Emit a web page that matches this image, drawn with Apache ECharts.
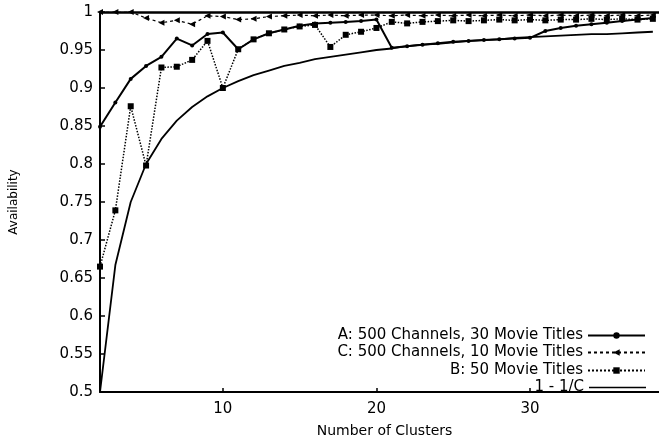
<!DOCTYPE html>
<html>
<head>
<meta charset="utf-8">
<script src="https://cdn.jsdelivr.net/npm/echarts@6/dist/echarts.min.js"></script>
<style>
html,body{margin:0;padding:0;background:#fff;}
#chart{width:659px;height:443px;}
</style>
</head>
<body>
<div id="chart"></div>
<script>
const clusters = [2,3,4,5,6,7,8,9,10,11,12,13,14,15,16,17,18,19,20,21,22,23,24,25,26,27,28,29,30,31,32,33,34,35,36,37,38];
const seriesA = [0.849,0.881,0.912,0.929,0.941,0.965,0.956,0.971,0.973,0.951,0.964,0.972,0.977,0.982,0.985,0.986,0.987,0.988,0.990,0.953,0.955,0.957,0.959,0.961,0.962,0.963,0.964,0.965,0.966,0.975,0.979,0.982,0.984,0.986,0.988,0.990,0.992];
const seriesC = [1.000,1.000,1.000,0.992,0.986,0.989,0.984,0.995,0.994,0.990,0.991,0.994,0.995,0.996,0.995,0.996,0.995,0.996,0.996,0.995,0.996,0.995,0.996,0.995,0.996,0.995,0.996,0.995,0.996,0.995,0.996,0.995,0.996,0.995,0.996,0.995,0.996];
const seriesB = [0.665,0.739,0.876,0.798,0.927,0.928,0.937,0.962,0.900,0.951,0.964,0.972,0.977,0.981,0.983,0.954,0.970,0.974,0.979,0.987,0.985,0.987,0.988,0.989,0.988,0.989,0.990,0.989,0.990,0.989,0.990,0.990,0.991,0.990,0.991,0.990,0.991];
const seriesInv = [0.500,0.667,0.750,0.800,0.833,0.857,0.875,0.889,0.900,0.909,0.917,0.923,0.929,0.933,0.938,0.941,0.944,0.947,0.950,0.952,0.955,0.957,0.958,0.960,0.962,0.963,0.964,0.966,0.967,0.968,0.969,0.970,0.971,0.971,0.972,0.973,0.974];
const xTickValues = [10,20,30];
const names = ['A: 500 Channels, 30 Movie Titles','C: 500 Channels, 10 Movie Titles','B: 50 Movie Titles','1 - 1/C'];

const pair = (ys) => clusters.map((x,i)=>[x, ys[i]]);
const FONT = 'DejaVu Sans';
const chart = echarts.init(document.getElementById('chart'), null, {renderer:'canvas'});
const legendTops = [323, 340, 358, 375];
const legendIcons = [null, null, null, 'rect'];
const legendIconH = [8, 8, 8, 1.5];
chart.setOption({
  backgroundColor:'#fff',
  animation:false,
  textStyle:{fontFamily:FONT,color:'#000'},
  grid:{left:97,right:0,top:12,bottom:46,containLabel:false},
  legend: names.map((n,i)=>({
    data:[legendIcons[i] ? {name:n, icon:legendIcons[i]} : {name:n}],
    orient:'vertical', right:8, top:legendTops[i], align:'right',
    itemWidth:57, itemHeight:legendIconH[i], itemGap:0, selectedMode:false,
    textStyle:{fontFamily:FONT,fontSize:15,color:'#000'}
  })),
  xAxis:[{
    type:'value', min:2, max:38.4,
    name:'Number of Clusters', nameLocation:'middle', nameGap:32,
    nameTextStyle:{fontFamily:FONT,fontSize:14,color:'#000',padding:[0,0,0,10]},
    axisLine:{show:true,onZero:false,lineStyle:{color:'#000',width:2}},
    axisTick:{show:true,inside:true,length:4,customValues:xTickValues,lineStyle:{color:'#000',width:1.5}},
    axisLabel:{show:true,customValues:xTickValues,fontFamily:FONT,fontSize:15,color:'#000',margin:10},
    splitLine:{show:false}
  },{
    type:'value', min:2, max:38.4, position:'top',
    axisLine:{show:true,onZero:false,lineStyle:{color:'#000',width:2.5}},
    axisTick:{show:false}, axisLabel:{show:false}, splitLine:{show:false}
  }],
  yAxis:{
    type:'value', min:0.5, max:1, interval:0.05,
    name:'Availability', nameLocation:'middle', nameGap:80,
    nameTextStyle:{fontFamily:FONT,fontSize:12,color:'#000'},
    axisLine:{show:true,onZero:false,lineStyle:{color:'#000',width:2}},
    axisTick:{show:true,inside:true,length:5,lineStyle:{color:'#000',width:1.5}},
    axisLabel:{fontFamily:FONT,fontSize:15,color:'#000',margin:7},
    splitLine:{show:false}
  },
  series:[
    {name:names[0], type:'line', data:pair(seriesA), symbol:'circle', symbolSize:4,
      lineStyle:{color:'#000',width:2}, itemStyle:{color:'#000'}},
    {name:names[1], type:'line', data:pair(seriesC), symbol:'triangle', symbolRotate:90, symbolSize:6,
      lineStyle:{color:'#000',width:1.2,type:[3,3]}, itemStyle:{color:'#000'}},
    {name:names[2], type:'line', data:pair(seriesB), symbol:'rect', symbolSize:6,
      lineStyle:{color:'#000',width:1.5,type:'dotted'}, itemStyle:{color:'#000'}},
    {name:names[3], type:'line', data:pair(seriesInv), symbol:'none',
      lineStyle:{color:'#000',width:1.8}, itemStyle:{color:'#000'}}
  ]
});
</script>
</body>
</html>
